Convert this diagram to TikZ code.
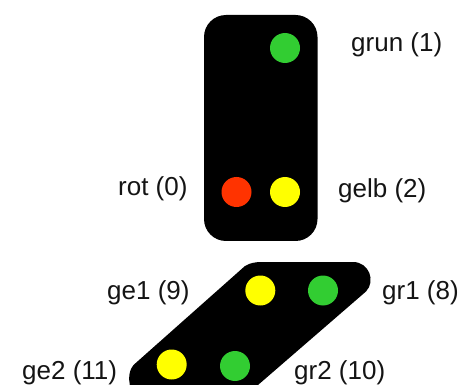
\documentclass[tikz,border=0pt]{standalone}
\usepackage{fontspec}
\setmainfont{Liberation Sans}
\definecolor{lampgreen}{RGB}{50,205,50}
\definecolor{lampyellow}{RGB}{255,255,0}
\definecolor{lampred}{RGB}{255,51,0}
\tikzset{
  lamp/.style={circle,inner sep=0pt,minimum size=30pt,fill=#1},
  lbl/.style={anchor=base west,inner sep=0pt,text=black!92,font=\fontsize{26}{26}\selectfont}
}
\begin{document}
\begin{tikzpicture}[x=1pt,y=-1pt]
\useasboundingbox (0,0) rectangle (461,385);
\clip (0,0) rectangle (461,385);
\fill[black,rounded corners=22pt] (204,15) rectangle (317.5,241);
\fill[black] (262,262) -- (353,262)
  .. controls (369,262) and (376,281) .. (366,291.5)
  -- (258,385) -- (200,400) -- (135,400)
  .. controls (128,385) and (127,373) .. (133.5,365)
  -- (245,266)
  .. controls (250,263) and (255,262) .. (262,262) -- cycle;
\node[lamp=lampgreen] (grun) at (285,48) {};
\node[lamp=lampred] (rot) at (236.5,192) {};
\node[lamp=lampyellow] (gelb) at (285,192) {};
\node[lamp=lampyellow] (ge1) at (260.3,290.5) {};
\node[lamp=lampgreen] (gr1) at (323,290.5) {};
\node[lamp=lampyellow] (ge2) at (171.7,364.5) {};
\node[lamp=lampgreen] (gr2) at (235,366) {};
\node[lbl] (tgrun) at (351,52) {grun (1)};
\node[lbl] (trot) at (118,195.5) {rot (0)};
\node[lbl] (tgelb) at (338,197) {gelb (2)};
\node[lbl] (tge1) at (107,299) {ge1 (9)};
\node[lbl] (tgr1) at (382,299) {gr1 (8)};
\node[lbl] (tge2) at (22,379) {ge2 (11)};
\node[lbl] (tgr2) at (294,379) {gr2 (10)};
\end{tikzpicture}
\end{document}
